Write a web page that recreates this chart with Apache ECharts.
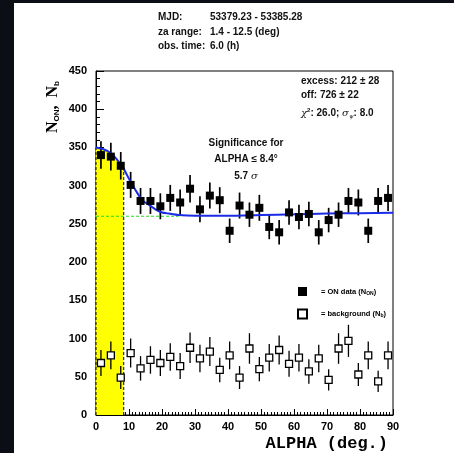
<!DOCTYPE html>
<html>
<head>
<meta charset="utf-8">
<script src="https://cdn.jsdelivr.net/npm/echarts@6/dist/echarts.min.js"></script>
<style>
  html, body { margin: 0; padding: 0; background: #0b0e14; width: 454px; height: 453px; overflow: hidden; }
  #chart { position: absolute; left: 14px; top: 3px; width: 440px; height: 450px; background: #fff; }
</style>
</head>
<body>
<div id="chart"></div>
<script>
// ALPHA bin centres (deg), 3-degree bins
const alphaBins = [1.5, 4.5, 7.5, 10.5, 13.5, 16.5, 19.5, 22.5, 25.5, 28.5,
                   31.5, 34.5, 37.5, 40.5, 43.5, 46.5, 49.5, 52.5, 55.5, 58.5,
                   61.5, 64.5, 67.5, 70.5, 73.5, 76.5, 79.5, 82.5, 85.5, 88.5];

// ON-source counts and their errors
const onCounts = [340, 338, 326, 301, 280, 280, 273, 284, 278, 296,
                  269, 287, 281, 241, 274, 262, 271, 246, 239, 265,
                  259, 263, 239, 255, 262, 280, 278, 241, 280, 284];
const onErrors = [18, 18, 18, 17, 17, 17, 17, 17, 17, 18,
                  17, 17, 17, 16, 17, 16, 17, 16, 16, 16,
                  16, 16, 16, 16, 16, 17, 17, 16, 17, 17];

// normalised background counts and their errors
const offCounts = [68, 78, 49, 81, 61, 72, 68, 76, 64, 88,
                   74, 83, 59, 78, 49, 87, 60, 75, 85, 67,
                   75, 57, 74, 46, 87, 97, 53, 78, 44, 78];
const offErrors = [17, 18, 15, 19, 16, 18, 17, 18, 17, 20,
                   18, 19, 16, 18, 15, 20, 16, 18, 19, 17,
                   18, 16, 18, 14, 20, 21, 15, 18, 14, 18];

// fitted ALPHA distribution (gaussian signal on top of background)
const fitAlpha  = [0, 2, 4, 6, 8.4, 10, 12, 14, 16, 18, 20, 22, 25, 30, 40, 50, 60, 70, 80, 90];
const fitCounts = [350, 348, 344, 336, 322, 309, 294, 281, 275, 269, 265, 263.5, 261.5, 260.5, 260.5, 261.5, 262.5, 263.5, 264, 264.5];

// background level of the fit and the signal cut
const bgLevel = 260;
const bgLineEnd = 25;
const alphaCut = 8.4;

const xTicks = [0, 10, 20, 30, 40, 50, 60, 70, 80, 90];
const yTicks = [0, 50, 100, 150, 200, 250, 300, 350, 400, 450];

const chart = echarts.init(document.getElementById('chart'), null, { renderer: 'canvas' });

const sans = 'Liberation Sans';

function errorBars(values, errors, width) {
  return {
    type: 'custom',
    silent: true,
    z: 3,
    data: alphaBins.map((a, i) => [a, values[i] - errors[i], values[i] + errors[i]]),
    encode: { x: 0, y: [1, 2] },
    renderItem: (params, api) => {
      const lo = api.coord([api.value(0), api.value(1)]);
      const hi = api.coord([api.value(0), api.value(2)]);
      return {
        type: 'line',
        shape: { x1: lo[0], y1: lo[1], x2: hi[0], y2: hi[1] },
        style: { stroke: '#000', lineWidth: width }
      };
    }
  };
}

const fitPoints = fitAlpha.map((a, i) => [a, fitCounts[i]]);
const cutPoints = fitPoints.filter(p => p[0] <= alphaCut);
const cutTop = cutPoints[cutPoints.length - 1][1];

const label = (style) => Object.assign({ fontFamily: sans, fontWeight: 'bold', fontSize: 10, fill: '#111' }, style);

chart.setOption({
  animation: false,
  backgroundColor: '#fff',
  grid: { left: 82, right: 61, top: 68, bottom: 38, show: true, borderColor: '#000', borderWidth: 1, backgroundColor: 'transparent' },
  xAxis: {
    type: 'value', min: xTicks[0], max: xTicks[xTicks.length - 1], interval: 10,
    axisLine: { lineStyle: { color: '#000', width: 1 } },
    axisTick: { inside: true, length: 6, lineStyle: { color: '#000' } },
    minorTick: { show: true, splitNumber: 10, length: 3, lineStyle: { color: '#000' } },
    splitLine: { show: false },
    axisLabel: { color: '#000', fontFamily: sans, fontWeight: 'bold', fontSize: 11, margin: 6 }
  },
  yAxis: {
    type: 'value', min: yTicks[0], max: yTicks[yTicks.length - 1], interval: 50,
    axisLine: { show: true, lineStyle: { color: '#000', width: 1 } },
    axisTick: { show: true, inside: true, length: 8, lineStyle: { color: '#000' } },
    minorTick: { show: true, splitNumber: 5, length: 4, lineStyle: { color: '#000' } },
    splitLine: { show: false },
    axisLabel: { color: '#000', fontFamily: sans, fontWeight: 'bold', fontSize: 11, margin: 9 }
  },
  legend: {
    data: [{ name: 'ON', icon: 'rect' }, { name: 'OFF', icon: 'rect' }],
    orient: 'vertical', left: 278, top: 279, itemWidth: 9, itemHeight: 9, itemGap: 12.6,
    selectedMode: false,
    formatter: name => name === 'ON' ? '= ON data (N{s|ON})' : '= background (N{s|b})',
    textStyle: {
      fontFamily: sans, fontWeight: 'bold', fontSize: 7.5, color: '#000', padding: [0, 0, 0, 9],
      rich: { s: { fontFamily: sans, fontWeight: 'bold', fontSize: 5, color: '#000', verticalAlign: 'bottom', lineHeight: 9 } }
    }
  },
  series: [
    {
      // shaded signal region under the fit, ALPHA <= cut
      type: 'line', silent: true, z: 1, symbol: 'none',
      data: cutPoints,
      lineStyle: { width: 0 },
      areaStyle: { color: '#ffff00', opacity: 1 }
    },
    {
      type: 'line', silent: true, z: 2, symbol: 'none',
      data: [[0, 0], [0, fitCounts[0]]],
      lineStyle: { color: '#000', width: 1, type: [3, 2] }
    },
    {
      type: 'line', silent: true, z: 2, symbol: 'none',
      data: [[alphaCut, 0], [alphaCut, cutTop]],
      lineStyle: { color: '#000', width: 1, type: [3, 2] }
    },
    {
      // background level of the fit
      type: 'line', silent: true, z: 2, symbol: 'none',
      data: [[0, bgLevel], [bgLineEnd, bgLevel]],
      lineStyle: { color: '#22dd22', width: 1.2, type: [3, 2] }
    },
    {
      // fitted curve
      type: 'line', silent: true, z: 4, symbol: 'none', smooth: 0.2,
      data: fitPoints,
      lineStyle: { color: '#1a2be6', width: 2 }
    },
    errorBars(onCounts, onErrors, 1.7),
    errorBars(offCounts, offErrors, 1.3),
    {
      name: 'ON', type: 'scatter', z: 5, symbol: 'rect', symbolSize: 8,
      data: alphaBins.map((a, i) => [a, onCounts[i]]),
      itemStyle: { color: '#000', opacity: 1 }
    },
    {
      name: 'OFF', type: 'scatter', z: 5, symbol: 'rect', symbolSize: 7,
      data: alphaBins.map((a, i) => [a, offCounts[i]]),
      itemStyle: { color: '#fff', borderColor: '#000', borderWidth: 1.3, opacity: 1 }
    }
  ],
  graphic: [
    { type: 'text', x: 144, y: 14, style: label({ text: 'MJD:', verticalAlign: 'middle' }) },
    { type: 'text', x: 196, y: 14, style: label({ text: '53379.23 - 53385.28', verticalAlign: 'middle' }) },
    { type: 'text', x: 144, y: 29, style: label({ text: 'za range:', verticalAlign: 'middle' }) },
    { type: 'text', x: 196, y: 29, style: label({ text: '1.4 - 12.5 (deg)', verticalAlign: 'middle' }) },
    { type: 'text', x: 144, y: 43, style: label({ text: 'obs. time:', verticalAlign: 'middle' }) },
    { type: 'text', x: 196, y: 43, style: label({ text: '6.0 (h)', verticalAlign: 'middle' }) },

    { type: 'text', x: 287, y: 78, style: label({ text: 'excess: 212 ± 28', verticalAlign: 'middle' }) },
    { type: 'text', x: 287, y: 92, style: label({ text: 'off: 726 ± 22', verticalAlign: 'middle' }) },
    { type: 'text', x: 287, y: 110, style: label({
        text: '{g|χ}{sup|2}: 26.0; {g|σ}{sub|ψ}: 8.0', verticalAlign: 'middle',
        rich: {
          g: { fontFamily: 'DejaVu Serif', fontStyle: 'italic', fontSize: 10, fill: '#111', lineHeight: 12 },
          sup: { fontFamily: sans, fontWeight: 'bold', fontSize: 6, fill: '#111', verticalAlign: 'top', lineHeight: 12 },
          sub: { fontFamily: 'DejaVu Serif', fontStyle: 'italic', fontSize: 6, fill: '#111', verticalAlign: 'bottom', lineHeight: 12 }
        }
      }) },

    { type: 'text', x: 232, y: 140, style: label({ text: 'Significance for', align: 'center', verticalAlign: 'middle' }) },
    { type: 'text', x: 232, y: 156, style: label({ text: 'ALPHA ≤ 8.4°', align: 'center', verticalAlign: 'middle' }) },
    { type: 'text', x: 232, y: 173, style: label({
        text: '5.7 {g|σ}', align: 'center', verticalAlign: 'middle',
        rich: { g: { fontFamily: 'DejaVu Serif', fontStyle: 'italic', fontSize: 10, fill: '#111' } }
      }) },

    { type: 'text', x: 374, y: 441, style: {
        text: 'ALPHA (deg.)', align: 'right', verticalAlign: 'middle',
        fontFamily: 'Liberation Mono', fontWeight: 'bold', fontSize: 17, fill: '#000'
      } },
    { type: 'text', x: 39, y: 104, rotation: Math.PI / 2, style: {
        text: '{n|N}{s|ON}{n|,  N}{s|b}', align: 'center', verticalAlign: 'middle',
        rich: {
          n: { fontFamily: 'Liberation Serif', fontWeight: 'bold', fontSize: 16, fill: '#000', lineHeight: 16 },
          s: { fontFamily: sans, fontWeight: 'bold', fontSize: 8, fill: '#000', verticalAlign: 'bottom', lineHeight: 16 }
        }
      } }
  ]
});
</script>
</body>
</html>
